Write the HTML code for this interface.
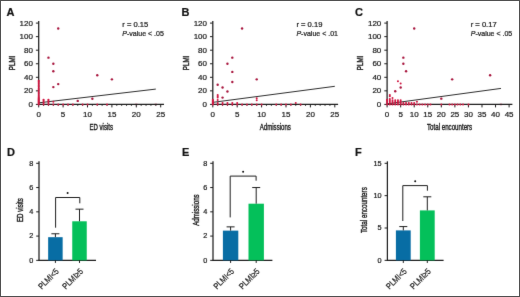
<!DOCTYPE html>
<html><head><meta charset="utf-8"><style>
html,body{margin:0;padding:0;background:#fff;width:520px;height:297px;overflow:hidden;font-family:"Liberation Sans", sans-serif;}
svg{display:block}
text{stroke:#1a1a1a;stroke-width:0.22px}
.wrap{position:relative;width:520px;height:297px}
.bd{position:absolute;left:0;top:0;width:518px;height:295px;border:1px solid #4f4f4f}
</style></head><body><div class="wrap">
<svg width="520" height="297" viewBox="0 0 520 297" font-family="'Liberation Sans', sans-serif">
<defs><filter id="b" x="0" y="0" width="520" height="297" filterUnits="userSpaceOnUse" color-interpolation-filters="sRGB"><feConvolveMatrix order="3" kernelMatrix="0.00524 0.06192 0.00524 0.06192 0.73137 0.06192 0.00524 0.06192 0.00524" divisor="1" edgeMode="duplicate"/></filter></defs>
<g filter="url(#b)">
<rect x="0" y="0" width="520" height="297" fill="#fff"/>
<text x="6.60" y="15.60" font-size="11" text-anchor="start" fill="#111" font-weight="bold" >A</text>
<circle cx="136.30" cy="104.40" r="1.4" fill="#e07090" fill-opacity="0.45"/>
<circle cx="155.82" cy="104.40" r="1.4" fill="#e07090" fill-opacity="0.45"/>
<line x1="38.70" y1="21.10" x2="38.70" y2="104.90" stroke="#1e1e1e" stroke-width="1.25"/>
<line x1="35.90" y1="104.40" x2="38.70" y2="104.40" stroke="#1e1e1e" stroke-width="1.0"/>
<text x="32.90" y="107.00" font-size="8.0" text-anchor="end" fill="#222" >0</text>
<line x1="35.90" y1="90.85" x2="38.70" y2="90.85" stroke="#1e1e1e" stroke-width="1.0"/>
<text x="32.90" y="93.45" font-size="8.0" text-anchor="end" fill="#222" >20</text>
<line x1="35.90" y1="77.30" x2="38.70" y2="77.30" stroke="#1e1e1e" stroke-width="1.0"/>
<text x="32.90" y="79.90" font-size="8.0" text-anchor="end" fill="#222" >40</text>
<line x1="35.90" y1="63.75" x2="38.70" y2="63.75" stroke="#1e1e1e" stroke-width="1.0"/>
<text x="32.90" y="66.35" font-size="8.0" text-anchor="end" fill="#222" >60</text>
<line x1="35.90" y1="50.20" x2="38.70" y2="50.20" stroke="#1e1e1e" stroke-width="1.0"/>
<text x="32.90" y="52.80" font-size="8.0" text-anchor="end" fill="#222" >80</text>
<line x1="35.90" y1="36.65" x2="38.70" y2="36.65" stroke="#1e1e1e" stroke-width="1.0"/>
<text x="32.90" y="39.25" font-size="8.0" text-anchor="end" fill="#222" >100</text>
<line x1="35.90" y1="23.10" x2="38.70" y2="23.10" stroke="#1e1e1e" stroke-width="1.0"/>
<text x="32.90" y="25.70" font-size="8.0" text-anchor="end" fill="#222" >120</text>
<line x1="38.20" y1="104.40" x2="164.00" y2="104.40" stroke="#1e1e1e" stroke-width="1.25"/>
<line x1="38.70" y1="104.40" x2="38.70" y2="107.40" stroke="#1e1e1e" stroke-width="1.0"/>
<text x="38.70" y="117.00" font-size="8.0" text-anchor="middle" fill="#222" >0</text>
<line x1="43.58" y1="104.40" x2="43.58" y2="106.00" stroke="#1e1e1e" stroke-width="0.8"/>
<line x1="48.46" y1="104.40" x2="48.46" y2="106.00" stroke="#1e1e1e" stroke-width="0.8"/>
<line x1="53.34" y1="104.40" x2="53.34" y2="106.00" stroke="#1e1e1e" stroke-width="0.8"/>
<line x1="58.22" y1="104.40" x2="58.22" y2="106.00" stroke="#1e1e1e" stroke-width="0.8"/>
<line x1="63.10" y1="104.40" x2="63.10" y2="107.40" stroke="#1e1e1e" stroke-width="1.0"/>
<text x="63.10" y="117.00" font-size="8.0" text-anchor="middle" fill="#222" >5</text>
<line x1="67.98" y1="104.40" x2="67.98" y2="106.00" stroke="#1e1e1e" stroke-width="0.8"/>
<line x1="72.86" y1="104.40" x2="72.86" y2="106.00" stroke="#1e1e1e" stroke-width="0.8"/>
<line x1="77.74" y1="104.40" x2="77.74" y2="106.00" stroke="#1e1e1e" stroke-width="0.8"/>
<line x1="82.62" y1="104.40" x2="82.62" y2="106.00" stroke="#1e1e1e" stroke-width="0.8"/>
<line x1="87.50" y1="104.40" x2="87.50" y2="107.40" stroke="#1e1e1e" stroke-width="1.0"/>
<text x="87.50" y="117.00" font-size="8.0" text-anchor="middle" fill="#222" >10</text>
<line x1="92.38" y1="104.40" x2="92.38" y2="106.00" stroke="#1e1e1e" stroke-width="0.8"/>
<line x1="97.26" y1="104.40" x2="97.26" y2="106.00" stroke="#1e1e1e" stroke-width="0.8"/>
<line x1="102.14" y1="104.40" x2="102.14" y2="106.00" stroke="#1e1e1e" stroke-width="0.8"/>
<line x1="107.02" y1="104.40" x2="107.02" y2="106.00" stroke="#1e1e1e" stroke-width="0.8"/>
<line x1="111.90" y1="104.40" x2="111.90" y2="107.40" stroke="#1e1e1e" stroke-width="1.0"/>
<text x="111.90" y="117.00" font-size="8.0" text-anchor="middle" fill="#222" >15</text>
<line x1="116.78" y1="104.40" x2="116.78" y2="106.00" stroke="#1e1e1e" stroke-width="0.8"/>
<line x1="121.66" y1="104.40" x2="121.66" y2="106.00" stroke="#1e1e1e" stroke-width="0.8"/>
<line x1="126.54" y1="104.40" x2="126.54" y2="106.00" stroke="#1e1e1e" stroke-width="0.8"/>
<line x1="131.42" y1="104.40" x2="131.42" y2="106.00" stroke="#1e1e1e" stroke-width="0.8"/>
<line x1="136.30" y1="104.40" x2="136.30" y2="107.40" stroke="#1e1e1e" stroke-width="1.0"/>
<text x="136.30" y="117.00" font-size="8.0" text-anchor="middle" fill="#222" >20</text>
<line x1="141.18" y1="104.40" x2="141.18" y2="106.00" stroke="#1e1e1e" stroke-width="0.8"/>
<line x1="146.06" y1="104.40" x2="146.06" y2="106.00" stroke="#1e1e1e" stroke-width="0.8"/>
<line x1="150.94" y1="104.40" x2="150.94" y2="106.00" stroke="#1e1e1e" stroke-width="0.8"/>
<line x1="155.82" y1="104.40" x2="155.82" y2="106.00" stroke="#1e1e1e" stroke-width="0.8"/>
<line x1="160.70" y1="104.40" x2="160.70" y2="107.40" stroke="#1e1e1e" stroke-width="1.0"/>
<text x="160.70" y="117.00" font-size="8.0" text-anchor="middle" fill="#222" >25</text>
<text x="101.20" y="129.60" font-size="9.4" text-anchor="middle" fill="#1a1a1a" textLength="23.5" lengthAdjust="spacingAndGlyphs" style="stroke-width:0.4px">ED visits</text>
<text x="14.80" y="62.90" font-size="9.2" text-anchor="middle" fill="#1a1a1a" textLength="14.6" lengthAdjust="spacingAndGlyphs" transform="rotate(-90 14.80 62.90)" style="stroke-width:0.4px">PLMI</text>
<text x="122.30" y="26.60" font-size="7.2" text-anchor="start" fill="#222" textLength="26.0" lengthAdjust="spacingAndGlyphs" >r = 0.15</text>
<text x="122.30" y="35.5" font-size="7.2" fill="#222" textLength="41.6" lengthAdjust="spacingAndGlyphs"><tspan font-style="italic">P</tspan>-value &lt; .05</text>
<line x1="38.70" y1="102.84" x2="155.82" y2="89.09" stroke="#2e2e2e" stroke-width="1.0"/>
<circle cx="38.70" cy="104.40" r="1.0" fill="#d0143f"/>
<circle cx="38.70" cy="103.72" r="1.0" fill="#d0143f"/>
<circle cx="38.70" cy="103.05" r="1.0" fill="#d0143f"/>
<circle cx="38.70" cy="102.37" r="1.0" fill="#d0143f"/>
<circle cx="38.70" cy="101.69" r="1.0" fill="#d0143f"/>
<circle cx="38.70" cy="101.01" r="1.0" fill="#d0143f"/>
<circle cx="38.70" cy="100.34" r="1.0" fill="#d0143f"/>
<circle cx="38.70" cy="99.66" r="1.0" fill="#d0143f"/>
<circle cx="38.70" cy="98.98" r="1.0" fill="#d0143f"/>
<circle cx="38.70" cy="98.30" r="1.0" fill="#d0143f"/>
<circle cx="38.70" cy="97.62" r="1.0" fill="#d0143f"/>
<circle cx="38.70" cy="96.27" r="1.0" fill="#d0143f"/>
<circle cx="38.70" cy="94.92" r="1.0" fill="#d0143f"/>
<circle cx="38.70" cy="93.56" r="1.0" fill="#d0143f"/>
<circle cx="38.70" cy="92.20" r="1.0" fill="#d0143f"/>
<circle cx="38.70" cy="90.85" r="1.0" fill="#d0143f"/>
<circle cx="38.70" cy="89.50" r="1.0" fill="#d0143f"/>
<circle cx="38.70" cy="88.14" r="1.0" fill="#d0143f"/>
<circle cx="38.70" cy="86.78" r="1.0" fill="#d0143f"/>
<circle cx="38.70" cy="85.43" r="1.0" fill="#d0143f"/>
<circle cx="38.70" cy="84.08" r="1.0" fill="#d0143f"/>
<circle cx="38.70" cy="82.72" r="1.0" fill="#d0143f"/>
<circle cx="38.70" cy="81.37" r="1.0" fill="#d0143f"/>
<circle cx="38.70" cy="80.69" r="1.0" fill="#d0143f"/>
<circle cx="43.58" cy="104.40" r="1.0" fill="#d0143f"/>
<circle cx="43.58" cy="103.05" r="1.0" fill="#d0143f"/>
<circle cx="43.58" cy="101.69" r="1.0" fill="#d0143f"/>
<circle cx="43.58" cy="100.34" r="1.0" fill="#d0143f"/>
<circle cx="43.58" cy="99.66" r="1.0" fill="#d0143f"/>
<circle cx="48.46" cy="104.40" r="1.0" fill="#d0143f"/>
<circle cx="48.46" cy="103.05" r="1.0" fill="#d0143f"/>
<circle cx="48.46" cy="101.69" r="1.0" fill="#d0143f"/>
<circle cx="48.46" cy="100.34" r="1.0" fill="#d0143f"/>
<circle cx="48.46" cy="99.66" r="1.0" fill="#d0143f"/>
<circle cx="48.46" cy="57.65" r="1.2" fill="#a8163e"/>
<circle cx="53.34" cy="104.40" r="1.0" fill="#d0143f"/>
<circle cx="53.34" cy="101.69" r="1.0" fill="#d0143f"/>
<circle cx="53.34" cy="87.12" r="1.2" fill="#a8163e"/>
<circle cx="53.34" cy="71.20" r="1.2" fill="#a8163e"/>
<circle cx="53.34" cy="63.75" r="1.2" fill="#a8163e"/>
<circle cx="58.22" cy="104.40" r="1.0" fill="#d0143f"/>
<circle cx="58.22" cy="84.08" r="1.2" fill="#a8163e"/>
<circle cx="58.22" cy="28.52" r="1.2" fill="#a8163e"/>
<circle cx="63.10" cy="104.40" r="1.0" fill="#d0143f"/>
<circle cx="67.98" cy="104.40" r="1.0" fill="#d0143f"/>
<circle cx="72.86" cy="104.40" r="1.0" fill="#d0143f"/>
<circle cx="77.74" cy="100.88" r="1.2" fill="#a8163e"/>
<circle cx="82.62" cy="104.40" r="1.0" fill="#d0143f"/>
<circle cx="87.50" cy="104.40" r="1.0" fill="#d0143f"/>
<circle cx="92.38" cy="98.78" r="1.2" fill="#a8163e"/>
<circle cx="97.26" cy="104.40" r="1.0" fill="#d0143f"/>
<circle cx="97.26" cy="75.27" r="1.2" fill="#a8163e"/>
<circle cx="107.02" cy="104.40" r="1.0" fill="#d0143f"/>
<circle cx="111.90" cy="79.33" r="1.2" fill="#a8163e"/>
<text x="181.60" y="15.60" font-size="11" text-anchor="start" fill="#111" font-weight="bold" >B</text>
<line x1="212.80" y1="21.10" x2="212.80" y2="104.90" stroke="#1e1e1e" stroke-width="1.25"/>
<line x1="210.00" y1="104.40" x2="212.80" y2="104.40" stroke="#1e1e1e" stroke-width="1.0"/>
<text x="207.00" y="107.00" font-size="8.0" text-anchor="end" fill="#222" >0</text>
<line x1="210.00" y1="90.85" x2="212.80" y2="90.85" stroke="#1e1e1e" stroke-width="1.0"/>
<text x="207.00" y="93.45" font-size="8.0" text-anchor="end" fill="#222" >20</text>
<line x1="210.00" y1="77.30" x2="212.80" y2="77.30" stroke="#1e1e1e" stroke-width="1.0"/>
<text x="207.00" y="79.90" font-size="8.0" text-anchor="end" fill="#222" >40</text>
<line x1="210.00" y1="63.75" x2="212.80" y2="63.75" stroke="#1e1e1e" stroke-width="1.0"/>
<text x="207.00" y="66.35" font-size="8.0" text-anchor="end" fill="#222" >60</text>
<line x1="210.00" y1="50.20" x2="212.80" y2="50.20" stroke="#1e1e1e" stroke-width="1.0"/>
<text x="207.00" y="52.80" font-size="8.0" text-anchor="end" fill="#222" >80</text>
<line x1="210.00" y1="36.65" x2="212.80" y2="36.65" stroke="#1e1e1e" stroke-width="1.0"/>
<text x="207.00" y="39.25" font-size="8.0" text-anchor="end" fill="#222" >100</text>
<line x1="210.00" y1="23.10" x2="212.80" y2="23.10" stroke="#1e1e1e" stroke-width="1.0"/>
<text x="207.00" y="25.70" font-size="8.0" text-anchor="end" fill="#222" >120</text>
<line x1="212.30" y1="104.40" x2="338.10" y2="104.40" stroke="#1e1e1e" stroke-width="1.25"/>
<line x1="212.80" y1="104.40" x2="212.80" y2="107.40" stroke="#1e1e1e" stroke-width="1.0"/>
<text x="212.80" y="117.00" font-size="8.0" text-anchor="middle" fill="#222" >0</text>
<line x1="217.68" y1="104.40" x2="217.68" y2="106.00" stroke="#1e1e1e" stroke-width="0.8"/>
<line x1="222.56" y1="104.40" x2="222.56" y2="106.00" stroke="#1e1e1e" stroke-width="0.8"/>
<line x1="227.44" y1="104.40" x2="227.44" y2="106.00" stroke="#1e1e1e" stroke-width="0.8"/>
<line x1="232.32" y1="104.40" x2="232.32" y2="106.00" stroke="#1e1e1e" stroke-width="0.8"/>
<line x1="237.20" y1="104.40" x2="237.20" y2="107.40" stroke="#1e1e1e" stroke-width="1.0"/>
<text x="237.20" y="117.00" font-size="8.0" text-anchor="middle" fill="#222" >5</text>
<line x1="242.08" y1="104.40" x2="242.08" y2="106.00" stroke="#1e1e1e" stroke-width="0.8"/>
<line x1="246.96" y1="104.40" x2="246.96" y2="106.00" stroke="#1e1e1e" stroke-width="0.8"/>
<line x1="251.84" y1="104.40" x2="251.84" y2="106.00" stroke="#1e1e1e" stroke-width="0.8"/>
<line x1="256.72" y1="104.40" x2="256.72" y2="106.00" stroke="#1e1e1e" stroke-width="0.8"/>
<line x1="261.60" y1="104.40" x2="261.60" y2="107.40" stroke="#1e1e1e" stroke-width="1.0"/>
<text x="261.60" y="117.00" font-size="8.0" text-anchor="middle" fill="#222" >10</text>
<line x1="266.48" y1="104.40" x2="266.48" y2="106.00" stroke="#1e1e1e" stroke-width="0.8"/>
<line x1="271.36" y1="104.40" x2="271.36" y2="106.00" stroke="#1e1e1e" stroke-width="0.8"/>
<line x1="276.24" y1="104.40" x2="276.24" y2="106.00" stroke="#1e1e1e" stroke-width="0.8"/>
<line x1="281.12" y1="104.40" x2="281.12" y2="106.00" stroke="#1e1e1e" stroke-width="0.8"/>
<line x1="286.00" y1="104.40" x2="286.00" y2="107.40" stroke="#1e1e1e" stroke-width="1.0"/>
<text x="286.00" y="117.00" font-size="8.0" text-anchor="middle" fill="#222" >15</text>
<line x1="290.88" y1="104.40" x2="290.88" y2="106.00" stroke="#1e1e1e" stroke-width="0.8"/>
<line x1="295.76" y1="104.40" x2="295.76" y2="106.00" stroke="#1e1e1e" stroke-width="0.8"/>
<line x1="300.64" y1="104.40" x2="300.64" y2="106.00" stroke="#1e1e1e" stroke-width="0.8"/>
<line x1="305.52" y1="104.40" x2="305.52" y2="106.00" stroke="#1e1e1e" stroke-width="0.8"/>
<line x1="310.40" y1="104.40" x2="310.40" y2="107.40" stroke="#1e1e1e" stroke-width="1.0"/>
<text x="310.40" y="117.00" font-size="8.0" text-anchor="middle" fill="#222" >20</text>
<line x1="315.28" y1="104.40" x2="315.28" y2="106.00" stroke="#1e1e1e" stroke-width="0.8"/>
<line x1="320.16" y1="104.40" x2="320.16" y2="106.00" stroke="#1e1e1e" stroke-width="0.8"/>
<line x1="325.04" y1="104.40" x2="325.04" y2="106.00" stroke="#1e1e1e" stroke-width="0.8"/>
<line x1="329.92" y1="104.40" x2="329.92" y2="106.00" stroke="#1e1e1e" stroke-width="0.8"/>
<line x1="334.80" y1="104.40" x2="334.80" y2="107.40" stroke="#1e1e1e" stroke-width="1.0"/>
<text x="334.80" y="117.00" font-size="8.0" text-anchor="middle" fill="#222" >25</text>
<text x="275.30" y="129.60" font-size="9.4" text-anchor="middle" fill="#1a1a1a" textLength="31" lengthAdjust="spacingAndGlyphs" style="stroke-width:0.4px">Admissions</text>
<text x="188.90" y="62.90" font-size="9.2" text-anchor="middle" fill="#1a1a1a" textLength="14.6" lengthAdjust="spacingAndGlyphs" transform="rotate(-90 188.90 62.90)" style="stroke-width:0.4px">PLMI</text>
<text x="296.40" y="26.60" font-size="7.2" text-anchor="start" fill="#222" textLength="26.0" lengthAdjust="spacingAndGlyphs" >r = 0.19</text>
<text x="296.40" y="35.5" font-size="7.2" fill="#222" textLength="41.6" lengthAdjust="spacingAndGlyphs"><tspan font-style="italic">P</tspan>-value &lt; .01</text>
<line x1="212.80" y1="102.37" x2="334.80" y2="86.31" stroke="#2e2e2e" stroke-width="1.0"/>
<circle cx="212.80" cy="104.40" r="1.0" fill="#d0143f"/>
<circle cx="212.80" cy="103.72" r="1.0" fill="#d0143f"/>
<circle cx="212.80" cy="103.05" r="1.0" fill="#d0143f"/>
<circle cx="212.80" cy="102.37" r="1.0" fill="#d0143f"/>
<circle cx="212.80" cy="101.69" r="1.0" fill="#d0143f"/>
<circle cx="212.80" cy="101.01" r="1.0" fill="#d0143f"/>
<circle cx="212.80" cy="100.34" r="1.0" fill="#d0143f"/>
<circle cx="212.80" cy="99.66" r="1.0" fill="#d0143f"/>
<circle cx="217.68" cy="104.40" r="1.0" fill="#d0143f"/>
<circle cx="217.68" cy="103.05" r="1.0" fill="#d0143f"/>
<circle cx="222.56" cy="104.40" r="1.0" fill="#d0143f"/>
<circle cx="222.56" cy="103.05" r="1.0" fill="#d0143f"/>
<circle cx="227.44" cy="104.40" r="1.0" fill="#d0143f"/>
<circle cx="227.44" cy="103.05" r="1.0" fill="#d0143f"/>
<circle cx="232.32" cy="104.40" r="1.0" fill="#d0143f"/>
<circle cx="232.32" cy="103.05" r="1.0" fill="#d0143f"/>
<circle cx="237.20" cy="104.40" r="1.0" fill="#d0143f"/>
<circle cx="237.20" cy="103.05" r="1.0" fill="#d0143f"/>
<circle cx="217.68" cy="100.06" r="1.0" fill="#d0143f"/>
<circle cx="217.68" cy="97.62" r="1.0" fill="#d0143f"/>
<circle cx="217.68" cy="96.27" r="1.0" fill="#d0143f"/>
<circle cx="217.68" cy="94.92" r="1.0" fill="#d0143f"/>
<circle cx="217.68" cy="84.75" r="1.2" fill="#a8163e"/>
<circle cx="222.56" cy="97.62" r="1.2" fill="#a8163e"/>
<circle cx="222.56" cy="87.46" r="1.2" fill="#a8163e"/>
<circle cx="227.44" cy="91.53" r="1.2" fill="#a8163e"/>
<circle cx="227.44" cy="63.75" r="1.2" fill="#a8163e"/>
<circle cx="232.32" cy="82.04" r="1.2" fill="#a8163e"/>
<circle cx="232.32" cy="71.88" r="1.2" fill="#a8163e"/>
<circle cx="232.32" cy="57.65" r="1.2" fill="#a8163e"/>
<circle cx="242.08" cy="104.40" r="1.0" fill="#d0143f"/>
<circle cx="242.08" cy="28.52" r="1.2" fill="#a8163e"/>
<circle cx="246.96" cy="104.40" r="1.0" fill="#d0143f"/>
<circle cx="251.84" cy="104.40" r="1.0" fill="#d0143f"/>
<circle cx="256.72" cy="104.40" r="1.0" fill="#d0143f"/>
<circle cx="256.72" cy="100.34" r="1.0" fill="#d0143f"/>
<circle cx="256.72" cy="98.30" r="1.0" fill="#d0143f"/>
<circle cx="256.72" cy="79.33" r="1.2" fill="#a8163e"/>
<circle cx="261.60" cy="104.40" r="1.0" fill="#d0143f"/>
<circle cx="276.24" cy="104.40" r="1.0" fill="#d0143f"/>
<circle cx="281.12" cy="104.40" r="1.0" fill="#d0143f"/>
<circle cx="286.00" cy="104.40" r="1.0" fill="#d0143f"/>
<circle cx="290.88" cy="104.40" r="1.0" fill="#d0143f"/>
<circle cx="295.76" cy="103.05" r="1.0" fill="#d0143f"/>
<circle cx="300.64" cy="104.40" r="1.0" fill="#d0143f"/>
<text x="355.00" y="15.60" font-size="11" text-anchor="start" fill="#111" font-weight="bold" >C</text>
<circle cx="500.97" cy="104.40" r="1.4" fill="#e07090" fill-opacity="0.45"/>
<line x1="387.10" y1="21.10" x2="387.10" y2="104.90" stroke="#1e1e1e" stroke-width="1.25"/>
<line x1="384.30" y1="104.40" x2="387.10" y2="104.40" stroke="#1e1e1e" stroke-width="1.0"/>
<text x="381.30" y="107.00" font-size="8.0" text-anchor="end" fill="#222" >0</text>
<line x1="384.30" y1="90.85" x2="387.10" y2="90.85" stroke="#1e1e1e" stroke-width="1.0"/>
<text x="381.30" y="93.45" font-size="8.0" text-anchor="end" fill="#222" >20</text>
<line x1="384.30" y1="77.30" x2="387.10" y2="77.30" stroke="#1e1e1e" stroke-width="1.0"/>
<text x="381.30" y="79.90" font-size="8.0" text-anchor="end" fill="#222" >40</text>
<line x1="384.30" y1="63.75" x2="387.10" y2="63.75" stroke="#1e1e1e" stroke-width="1.0"/>
<text x="381.30" y="66.35" font-size="8.0" text-anchor="end" fill="#222" >60</text>
<line x1="384.30" y1="50.20" x2="387.10" y2="50.20" stroke="#1e1e1e" stroke-width="1.0"/>
<text x="381.30" y="52.80" font-size="8.0" text-anchor="end" fill="#222" >80</text>
<line x1="384.30" y1="36.65" x2="387.10" y2="36.65" stroke="#1e1e1e" stroke-width="1.0"/>
<text x="381.30" y="39.25" font-size="8.0" text-anchor="end" fill="#222" >100</text>
<line x1="384.30" y1="23.10" x2="387.10" y2="23.10" stroke="#1e1e1e" stroke-width="1.0"/>
<text x="381.30" y="25.70" font-size="8.0" text-anchor="end" fill="#222" >120</text>
<line x1="386.60" y1="104.40" x2="512.40" y2="104.40" stroke="#1e1e1e" stroke-width="1.25"/>
<line x1="387.10" y1="104.40" x2="387.10" y2="107.40" stroke="#1e1e1e" stroke-width="1.0"/>
<text x="387.10" y="117.00" font-size="8.0" text-anchor="middle" fill="#222" >0</text>
<line x1="400.66" y1="104.40" x2="400.66" y2="107.40" stroke="#1e1e1e" stroke-width="1.0"/>
<text x="400.66" y="117.00" font-size="8.0" text-anchor="middle" fill="#222" >5</text>
<line x1="414.21" y1="104.40" x2="414.21" y2="107.40" stroke="#1e1e1e" stroke-width="1.0"/>
<text x="414.21" y="117.00" font-size="8.0" text-anchor="middle" fill="#222" >10</text>
<line x1="427.77" y1="104.40" x2="427.77" y2="107.40" stroke="#1e1e1e" stroke-width="1.0"/>
<text x="427.77" y="117.00" font-size="8.0" text-anchor="middle" fill="#222" >15</text>
<line x1="441.32" y1="104.40" x2="441.32" y2="107.40" stroke="#1e1e1e" stroke-width="1.0"/>
<text x="441.32" y="117.00" font-size="8.0" text-anchor="middle" fill="#222" >20</text>
<line x1="454.88" y1="104.40" x2="454.88" y2="107.40" stroke="#1e1e1e" stroke-width="1.0"/>
<text x="454.88" y="117.00" font-size="8.0" text-anchor="middle" fill="#222" >25</text>
<line x1="468.43" y1="104.40" x2="468.43" y2="107.40" stroke="#1e1e1e" stroke-width="1.0"/>
<text x="468.43" y="117.00" font-size="8.0" text-anchor="middle" fill="#222" >30</text>
<line x1="481.99" y1="104.40" x2="481.99" y2="107.40" stroke="#1e1e1e" stroke-width="1.0"/>
<text x="481.99" y="117.00" font-size="8.0" text-anchor="middle" fill="#222" >35</text>
<line x1="495.54" y1="104.40" x2="495.54" y2="107.40" stroke="#1e1e1e" stroke-width="1.0"/>
<text x="495.54" y="117.00" font-size="8.0" text-anchor="middle" fill="#222" >40</text>
<line x1="509.10" y1="104.40" x2="509.10" y2="107.40" stroke="#1e1e1e" stroke-width="1.0"/>
<text x="509.10" y="117.00" font-size="8.0" text-anchor="middle" fill="#222" >45</text>
<text x="449.60" y="129.60" font-size="9.4" text-anchor="middle" fill="#1a1a1a" textLength="45.2" lengthAdjust="spacingAndGlyphs" style="stroke-width:0.4px">Total encounters</text>
<text x="363.20" y="62.90" font-size="9.2" text-anchor="middle" fill="#1a1a1a" textLength="14.6" lengthAdjust="spacingAndGlyphs" transform="rotate(-90 363.20 62.90)" style="stroke-width:0.4px">PLMI</text>
<text x="470.70" y="26.60" font-size="7.2" text-anchor="start" fill="#222" textLength="26.0" lengthAdjust="spacingAndGlyphs" >r = 0.17</text>
<text x="470.70" y="35.5" font-size="7.2" fill="#222" textLength="41.6" lengthAdjust="spacingAndGlyphs"><tspan font-style="italic">P</tspan>-value &lt; .05</text>
<line x1="387.10" y1="103.86" x2="500.97" y2="88.41" stroke="#2e2e2e" stroke-width="1.0"/>
<circle cx="387.10" cy="104.40" r="1.0" fill="#d0143f"/>
<circle cx="387.10" cy="103.05" r="1.0" fill="#d0143f"/>
<circle cx="387.10" cy="101.69" r="1.0" fill="#d0143f"/>
<circle cx="387.10" cy="100.34" r="1.0" fill="#d0143f"/>
<circle cx="389.81" cy="104.40" r="1.0" fill="#d0143f"/>
<circle cx="389.81" cy="103.05" r="1.0" fill="#d0143f"/>
<circle cx="389.81" cy="101.69" r="1.0" fill="#d0143f"/>
<circle cx="389.81" cy="100.34" r="1.0" fill="#d0143f"/>
<circle cx="392.52" cy="104.40" r="1.0" fill="#d0143f"/>
<circle cx="392.52" cy="103.05" r="1.0" fill="#d0143f"/>
<circle cx="392.52" cy="101.69" r="1.0" fill="#d0143f"/>
<circle cx="392.52" cy="100.34" r="1.0" fill="#d0143f"/>
<circle cx="395.23" cy="104.40" r="1.0" fill="#d0143f"/>
<circle cx="395.23" cy="103.05" r="1.0" fill="#d0143f"/>
<circle cx="395.23" cy="101.69" r="1.0" fill="#d0143f"/>
<circle cx="395.23" cy="100.34" r="1.0" fill="#d0143f"/>
<circle cx="397.94" cy="104.40" r="1.0" fill="#d0143f"/>
<circle cx="397.94" cy="103.05" r="1.0" fill="#d0143f"/>
<circle cx="397.94" cy="101.69" r="1.0" fill="#d0143f"/>
<circle cx="397.94" cy="100.34" r="1.0" fill="#d0143f"/>
<circle cx="400.66" cy="104.40" r="1.0" fill="#d0143f"/>
<circle cx="400.66" cy="103.05" r="1.0" fill="#d0143f"/>
<circle cx="400.66" cy="101.69" r="1.0" fill="#d0143f"/>
<circle cx="400.66" cy="100.34" r="1.0" fill="#d0143f"/>
<circle cx="403.37" cy="104.40" r="1.0" fill="#d0143f"/>
<circle cx="403.37" cy="103.05" r="1.0" fill="#d0143f"/>
<circle cx="406.08" cy="104.40" r="1.0" fill="#d0143f"/>
<circle cx="406.08" cy="103.05" r="1.0" fill="#d0143f"/>
<circle cx="408.79" cy="104.40" r="1.0" fill="#d0143f"/>
<circle cx="408.79" cy="103.05" r="1.0" fill="#d0143f"/>
<circle cx="411.50" cy="104.40" r="1.0" fill="#d0143f"/>
<circle cx="411.50" cy="103.05" r="1.0" fill="#d0143f"/>
<circle cx="414.21" cy="104.40" r="1.0" fill="#d0143f"/>
<circle cx="414.21" cy="103.05" r="1.0" fill="#d0143f"/>
<circle cx="387.10" cy="99.66" r="1.0" fill="#d0143f"/>
<circle cx="389.81" cy="98.98" r="1.0" fill="#d0143f"/>
<circle cx="389.81" cy="96.27" r="1.0" fill="#d0143f"/>
<circle cx="389.81" cy="94.92" r="1.0" fill="#d0143f"/>
<circle cx="392.52" cy="97.96" r="1.0" fill="#d0143f"/>
<circle cx="395.23" cy="91.19" r="1.2" fill="#a8163e"/>
<circle cx="397.94" cy="81.37" r="1.0" fill="#d0143f"/>
<circle cx="400.66" cy="87.46" r="1.2" fill="#a8163e"/>
<circle cx="400.66" cy="83.40" r="1.0" fill="#d0143f"/>
<circle cx="403.37" cy="63.75" r="1.2" fill="#a8163e"/>
<circle cx="403.37" cy="57.65" r="1.2" fill="#a8163e"/>
<circle cx="406.08" cy="71.20" r="1.2" fill="#a8163e"/>
<circle cx="414.21" cy="28.52" r="1.2" fill="#a8163e"/>
<circle cx="416.92" cy="101.69" r="1.0" fill="#d0143f"/>
<circle cx="416.92" cy="104.40" r="1.0" fill="#d0143f"/>
<circle cx="419.63" cy="104.40" r="1.0" fill="#d0143f"/>
<circle cx="422.34" cy="104.40" r="1.0" fill="#d0143f"/>
<circle cx="425.06" cy="104.40" r="1.0" fill="#d0143f"/>
<circle cx="427.77" cy="104.40" r="1.0" fill="#d0143f"/>
<circle cx="430.48" cy="104.40" r="1.0" fill="#d0143f"/>
<circle cx="441.32" cy="104.40" r="1.0" fill="#d0143f"/>
<circle cx="441.32" cy="98.64" r="1.2" fill="#a8163e"/>
<circle cx="449.46" cy="104.40" r="1.0" fill="#d0143f"/>
<circle cx="452.17" cy="104.40" r="1.0" fill="#d0143f"/>
<circle cx="452.17" cy="79.33" r="1.2" fill="#a8163e"/>
<circle cx="454.88" cy="104.40" r="1.0" fill="#d0143f"/>
<circle cx="457.59" cy="104.40" r="1.0" fill="#d0143f"/>
<circle cx="460.30" cy="104.40" r="1.0" fill="#d0143f"/>
<circle cx="463.01" cy="104.40" r="1.0" fill="#d0143f"/>
<circle cx="468.43" cy="104.40" r="1.0" fill="#d0143f"/>
<circle cx="490.12" cy="75.27" r="1.2" fill="#a8163e"/>
<text x="6.90" y="155.90" font-size="11" text-anchor="start" fill="#111" font-weight="bold" >D</text>
<line x1="39.00" y1="161.30" x2="39.00" y2="260.85" stroke="#1e1e1e" stroke-width="1.25"/>
<line x1="36.20" y1="260.35" x2="39.00" y2="260.35" stroke="#1e1e1e" stroke-width="1.0"/>
<text x="33.20" y="262.65" font-size="7.3" text-anchor="end" fill="#222" >0</text>
<line x1="36.20" y1="236.09" x2="39.00" y2="236.09" stroke="#1e1e1e" stroke-width="1.0"/>
<text x="33.20" y="238.39" font-size="7.3" text-anchor="end" fill="#222" >2</text>
<line x1="36.20" y1="211.83" x2="39.00" y2="211.83" stroke="#1e1e1e" stroke-width="1.0"/>
<text x="33.20" y="214.13" font-size="7.3" text-anchor="end" fill="#222" >4</text>
<line x1="36.20" y1="187.56" x2="39.00" y2="187.56" stroke="#1e1e1e" stroke-width="1.0"/>
<text x="33.20" y="189.86" font-size="7.3" text-anchor="end" fill="#222" >6</text>
<line x1="36.20" y1="163.30" x2="39.00" y2="163.30" stroke="#1e1e1e" stroke-width="1.0"/>
<text x="33.20" y="165.60" font-size="7.3" text-anchor="end" fill="#222" >8</text>
<line x1="38.50" y1="260.35" x2="96.00" y2="260.35" stroke="#1e1e1e" stroke-width="1.25"/>
<rect x="48.15" y="237.18" width="14.50" height="23.17" fill="#086da4"/>
<line x1="55.40" y1="237.18" x2="55.40" y2="233.78" stroke="#1e1e1e" stroke-width="1.0"/>
<line x1="51.40" y1="233.78" x2="59.40" y2="233.78" stroke="#1e1e1e" stroke-width="1.0"/>
<line x1="55.40" y1="260.35" x2="55.40" y2="262.95" stroke="#1e1e1e" stroke-width="1.0"/>
<rect x="72.25" y="221.29" width="14.50" height="39.06" fill="#04c05a"/>
<line x1="79.50" y1="221.29" x2="79.50" y2="209.16" stroke="#1e1e1e" stroke-width="1.0"/>
<line x1="75.50" y1="209.16" x2="83.50" y2="209.16" stroke="#1e1e1e" stroke-width="1.0"/>
<line x1="79.50" y1="260.35" x2="79.50" y2="262.95" stroke="#1e1e1e" stroke-width="1.0"/>
<polyline points="55.60,227.70 55.60,197.50 79.80,197.50 79.80,203.30" fill="none" stroke="#1e1e1e" stroke-width="1.0"/>
<circle cx="67.60" cy="193.10" r="1.0" fill="#111"/>
<text x="23.10" y="210.10" font-size="9.2" text-anchor="middle" fill="#1a1a1a" textLength="24.0" lengthAdjust="spacingAndGlyphs" transform="rotate(-90 23.10 210.10)" style="stroke-width:0.4px">ED visits</text>
<text x="59.40" y="272.00" font-size="8.6" text-anchor="end" fill="#222" textLength="25" lengthAdjust="spacingAndGlyphs" transform="rotate(-45 59.40 272.00)" style="stroke-width:0.22px">PLMI&lt;5</text>
<text x="83.50" y="272.00" font-size="8.6" text-anchor="end" fill="#222" textLength="25" lengthAdjust="spacingAndGlyphs" transform="rotate(-45 83.50 272.00)" style="stroke-width:0.22px">PLMI≥5</text>
<text x="182.00" y="155.90" font-size="11" text-anchor="start" fill="#111" font-weight="bold" >E</text>
<line x1="213.00" y1="161.30" x2="213.00" y2="260.85" stroke="#1e1e1e" stroke-width="1.25"/>
<line x1="210.20" y1="260.35" x2="213.00" y2="260.35" stroke="#1e1e1e" stroke-width="1.0"/>
<text x="207.20" y="262.65" font-size="7.3" text-anchor="end" fill="#222" >0</text>
<line x1="210.20" y1="236.09" x2="213.00" y2="236.09" stroke="#1e1e1e" stroke-width="1.0"/>
<text x="207.20" y="238.39" font-size="7.3" text-anchor="end" fill="#222" >2</text>
<line x1="210.20" y1="211.83" x2="213.00" y2="211.83" stroke="#1e1e1e" stroke-width="1.0"/>
<text x="207.20" y="214.13" font-size="7.3" text-anchor="end" fill="#222" >4</text>
<line x1="210.20" y1="187.56" x2="213.00" y2="187.56" stroke="#1e1e1e" stroke-width="1.0"/>
<text x="207.20" y="189.86" font-size="7.3" text-anchor="end" fill="#222" >6</text>
<line x1="210.20" y1="163.30" x2="213.00" y2="163.30" stroke="#1e1e1e" stroke-width="1.0"/>
<text x="207.20" y="165.60" font-size="7.3" text-anchor="end" fill="#222" >8</text>
<line x1="212.50" y1="260.35" x2="272.40" y2="260.35" stroke="#1e1e1e" stroke-width="1.25"/>
<rect x="222.90" y="230.63" width="15.40" height="29.72" fill="#086da4"/>
<line x1="230.60" y1="230.63" x2="230.60" y2="226.87" stroke="#1e1e1e" stroke-width="1.0"/>
<line x1="226.60" y1="226.87" x2="234.60" y2="226.87" stroke="#1e1e1e" stroke-width="1.0"/>
<line x1="230.60" y1="260.35" x2="230.60" y2="262.95" stroke="#1e1e1e" stroke-width="1.0"/>
<rect x="248.50" y="203.70" width="15.40" height="56.65" fill="#04c05a"/>
<line x1="256.20" y1="203.70" x2="256.20" y2="187.56" stroke="#1e1e1e" stroke-width="1.0"/>
<line x1="252.20" y1="187.56" x2="260.20" y2="187.56" stroke="#1e1e1e" stroke-width="1.0"/>
<line x1="256.20" y1="260.35" x2="256.20" y2="262.95" stroke="#1e1e1e" stroke-width="1.0"/>
<polyline points="230.20,217.40 230.20,176.10 256.10,176.10 256.10,180.70" fill="none" stroke="#1e1e1e" stroke-width="1.0"/>
<circle cx="243.10" cy="171.70" r="1.0" fill="#111"/>
<text x="199.00" y="210.10" font-size="9.2" text-anchor="middle" fill="#1a1a1a" textLength="31.5" lengthAdjust="spacingAndGlyphs" transform="rotate(-90 199.00 210.10)" style="stroke-width:0.4px">Admissions</text>
<text x="234.60" y="272.00" font-size="8.6" text-anchor="end" fill="#222" textLength="25" lengthAdjust="spacingAndGlyphs" transform="rotate(-45 234.60 272.00)" style="stroke-width:0.22px">PLMI&lt;5</text>
<text x="260.20" y="272.00" font-size="8.6" text-anchor="end" fill="#222" textLength="25" lengthAdjust="spacingAndGlyphs" transform="rotate(-45 260.20 272.00)" style="stroke-width:0.22px">PLMI≥5</text>
<text x="355.00" y="155.90" font-size="11" text-anchor="start" fill="#111" font-weight="bold" >F</text>
<line x1="387.40" y1="161.30" x2="387.40" y2="260.85" stroke="#1e1e1e" stroke-width="1.25"/>
<line x1="384.60" y1="260.35" x2="387.40" y2="260.35" stroke="#1e1e1e" stroke-width="1.0"/>
<text x="381.60" y="262.65" font-size="7.3" text-anchor="end" fill="#222" >0</text>
<line x1="384.60" y1="228.00" x2="387.40" y2="228.00" stroke="#1e1e1e" stroke-width="1.0"/>
<text x="381.60" y="230.30" font-size="7.3" text-anchor="end" fill="#222" >5</text>
<line x1="384.60" y1="195.65" x2="387.40" y2="195.65" stroke="#1e1e1e" stroke-width="1.0"/>
<text x="381.60" y="197.95" font-size="7.3" text-anchor="end" fill="#222" >10</text>
<line x1="384.60" y1="163.30" x2="387.40" y2="163.30" stroke="#1e1e1e" stroke-width="1.0"/>
<text x="381.60" y="165.60" font-size="7.3" text-anchor="end" fill="#222" >15</text>
<line x1="386.90" y1="260.35" x2="443.60" y2="260.35" stroke="#1e1e1e" stroke-width="1.25"/>
<rect x="395.90" y="230.39" width="14.80" height="29.96" fill="#086da4"/>
<line x1="403.30" y1="230.39" x2="403.30" y2="226.58" stroke="#1e1e1e" stroke-width="1.0"/>
<line x1="399.30" y1="226.58" x2="407.30" y2="226.58" stroke="#1e1e1e" stroke-width="1.0"/>
<line x1="403.30" y1="260.35" x2="403.30" y2="262.95" stroke="#1e1e1e" stroke-width="1.0"/>
<rect x="419.90" y="210.40" width="14.80" height="49.95" fill="#04c05a"/>
<line x1="427.30" y1="210.40" x2="427.30" y2="196.81" stroke="#1e1e1e" stroke-width="1.0"/>
<line x1="423.30" y1="196.81" x2="431.30" y2="196.81" stroke="#1e1e1e" stroke-width="1.0"/>
<line x1="427.30" y1="260.35" x2="427.30" y2="262.95" stroke="#1e1e1e" stroke-width="1.0"/>
<polyline points="402.80,221.00 402.80,185.60 427.40,185.60 427.40,190.70" fill="none" stroke="#1e1e1e" stroke-width="1.0"/>
<circle cx="415.20" cy="181.20" r="1.0" fill="#111"/>
<text x="366.80" y="210.10" font-size="9.2" text-anchor="middle" fill="#1a1a1a" textLength="45.8" lengthAdjust="spacingAndGlyphs" transform="rotate(-90 366.80 210.10)" style="stroke-width:0.4px">Total encounters</text>
<text x="407.30" y="272.00" font-size="8.6" text-anchor="end" fill="#222" textLength="25" lengthAdjust="spacingAndGlyphs" transform="rotate(-45 407.30 272.00)" style="stroke-width:0.22px">PLMI&lt;5</text>
<text x="431.30" y="272.00" font-size="8.6" text-anchor="end" fill="#222" textLength="25" lengthAdjust="spacingAndGlyphs" transform="rotate(-45 431.30 272.00)" style="stroke-width:0.22px">PLMI≥5</text>
</g>
</svg>
<div class="bd"></div></div>
</body></html>
